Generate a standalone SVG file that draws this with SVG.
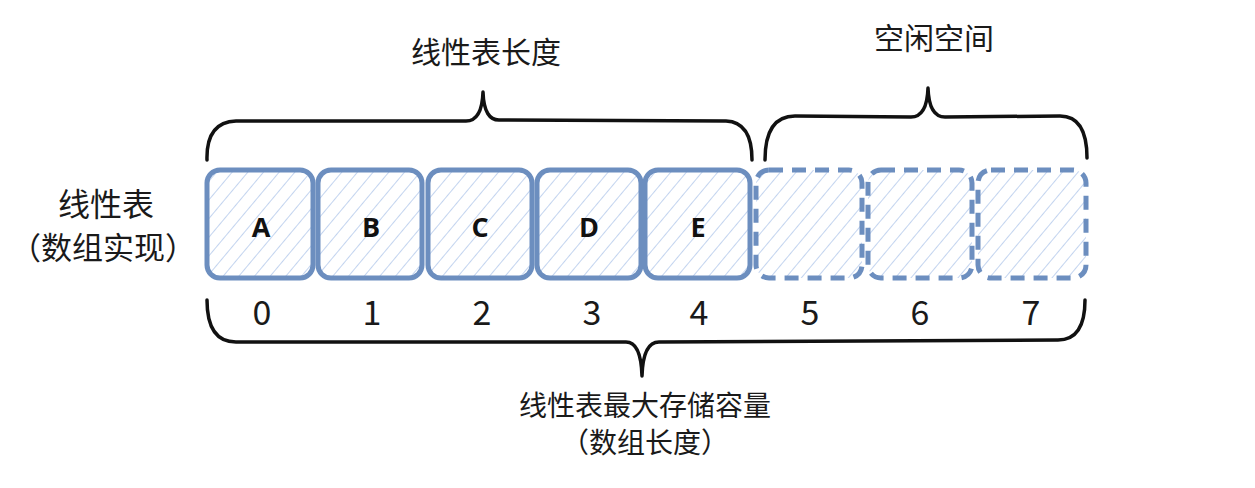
<svg xmlns="http://www.w3.org/2000/svg" width="1255" height="488" viewBox="0 0 1255 488">
<style>
.t{font-family:"Noto Sans CJK SC","Noto Sans",sans-serif;fill:#1a1a1a;text-anchor:middle}
.lbl{font-size:30px}
.sm{font-size:28px}
.idx{font-family:"Noto Sans CJK SC","Noto Sans",sans-serif;font-size:34px;fill:#1a1a1a;text-anchor:middle}
.let{font-family:"Open Sans","Noto Sans",sans-serif;font-weight:bold;font-size:27px;fill:#111;text-anchor:middle}
.box{fill:url(#hatch);stroke:#6c8ebf;stroke-width:5;stroke-linejoin:round}
.dash{stroke-dasharray:14 9}
.brace{fill:none;stroke:#111;stroke-width:3.5;stroke-linecap:round;stroke-linejoin:round}
</style>
<defs>
<pattern id="hatch" width="12" height="12" patternUnits="userSpaceOnUse" patternTransform="rotate(40)">
<rect width="12" height="12" fill="#ffffff"/>
<line x1="0" y1="0" x2="0" y2="12" stroke="#bccfee" stroke-width="1.8"/>
</pattern>
</defs>
<rect width="1255" height="488" fill="#ffffff"/>
<g id="title-length"><text class="t lbl" x="486" y="63">线性表长度</text></g>
<g id="title-free"><text class="t lbl" x="934" y="49">空闲空间</text></g>
<g id="label-left">
<text class="t" style="font-size:32px" x="106" y="216">线性表</text>
<text class="t" style="font-size:31px" x="103" y="259">（数组实现）</text>
</g>
<g id="cell0"><rect class="box" x="207" y="170" width="106" height="108" rx="13"/><text class="let" x="261" y="237">A</text><text class="idx" x="262" y="325">0</text></g>
<g id="cell1"><rect class="box" x="318" y="170" width="104" height="108" rx="13"/><text class="let" x="371" y="237">B</text><text class="idx" x="372" y="325">1</text></g>
<g id="cell2"><rect class="box" x="428" y="170" width="104" height="108" rx="13"/><text class="let" x="480" y="237">C</text><text class="idx" x="482" y="325">2</text></g>
<g id="cell3"><rect class="box" x="537" y="170" width="104" height="108" rx="13"/><text class="let" x="589" y="237">D</text><text class="idx" x="592" y="325">3</text></g>
<g id="cell4"><rect class="box" x="645" y="170" width="105" height="108" rx="13"/><text class="let" x="698" y="237">E</text><text class="idx" x="699" y="325">4</text></g>
<g id="cell5"><rect class="box dash" x="756" y="170" width="106" height="108" rx="13"/><text class="idx" x="810" y="325">5</text></g>
<g id="cell6"><rect class="box dash" x="868" y="170" width="104" height="108" rx="13"/><text class="idx" x="920" y="325">6</text></g>
<g id="cell7"><rect class="box dash" x="978" y="170" width="108" height="108" rx="13"/><text class="idx" x="1031" y="325">7</text></g>
<g id="connectors">
<path class="brace" d="M207,160 Q206,122 236,121 L466,121 Q482,121 483,92 Q484,121 500,120 L726,121 Q752,122 752,160"/>
<path class="brace" d="M765,160 Q765,116 795,116 L911,117 Q927,117 928,88 Q929,117 945,117 L1060,116 Q1087,116 1087,158"/>
<path class="brace" d="M207,300 Q207,342 236,342 L626,342 Q641,342 642,376 Q643,342 659,342 L1058,340 Q1085,340 1085,300"/>
</g>
<g id="label-bottom">
<text class="t sm" x="645" y="416">线性表最大存储容量</text>
<text class="t sm" x="645" y="453">（数组长度）</text>
</g>
</svg>
